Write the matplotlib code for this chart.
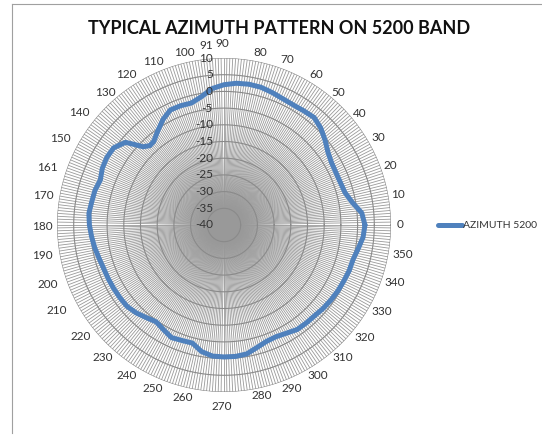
import numpy as np
import matplotlib
matplotlib.use("Agg")
import matplotlib.pyplot as plt
from matplotlib.transforms import offset_copy
from matplotlib.lines import Line2D

plt.rcParams['font.family'] = ['Lato', 'DejaVu Sans']

title = "TYPICAL AZIMUTH PATTERN ON 5200 BAND"
series_name = "AZIMUTH 5200"

angles_deg = [0, 5, 10, 15, 20, 25, 30, 35, 40, 45, 50, 55, 60, 65, 70, 75, 80, 85,
              90, 95, 100, 105, 110, 115, 120, 125, 130, 133, 136, 138, 140, 145, 150,
              155, 160, 165, 170, 175, 180, 185, 190, 195, 200, 205, 210, 215, 220,
              225, 230, 235, 240, 245, 250, 255, 260, 265, 270, 275, 280, 285, 290,
              295, 300, 305, 310, 315, 320, 325, 330, 335, 340, 345, 350, 355, 360]
gain_db = [2.2, 1.4, -1.0, -2.5, -2.9, -3.0, -2.8, -2.0, -0.5, 1.0, 2.0, 1.7, 1.5, 1.7,
           2.2, 2.7, 2.8, 2.6, 2.0, 1.0, -1.0, -2.2, -2.0, -2.0, -3.5, -5.5, -7.3, -7.5,
           -6.3, -4.0, -1.5, 0.3, 0.5, 0.2, -0.6, 0.0, 0.2, 0.6, 0.3, -0.2, -0.7, -1.3,
           -1.7, -1.8, -1.9, -2.0, -2.1, -2.8, -3.8, -4.6, -3.8, -2.8, -3.2, -3.4, -1.5,
           -0.6, -0.5, -0.5, -0.8, -2.0, -2.9, -3.1, -2.6, -1.8, -1.7, -1.6, -1.2, -0.9,
           -0.6, -0.4, -0.1, 0.0, 0.8, 1.8, 2.2]

angle_labels = ['0', '10', '20', '30', '40', '50', '60', '70', '80', '90', '91', '100',
                '110', '120', '130', '140', '150', '161', '170', '180', '190', '200',
                '210', '220', '230', '240', '250', '260', '270', '280', '290', '300',
                '310', '320', '330', '340', '350']
radial_ticks = [-40, -35, -30, -25, -20, -15, -10, -5, 0, 5, 10]
spoke_count = 360

# label placement (angle in degrees, distance from centre in pixels)
label_angle = [0, 9.8, 19.8, 29.5, 39.5, 49.4, 58.5, 69, 78, 90.6, 95.5, 103, 113.5, 123,
               132, 142, 152, 162, 170.6, 180.6, 189.4, 198.8, 207, 217.9, 227.5, 237,
               246.5, 256.6, 269.4, 282.6, 292.6, 302, 311.8, 321.5, 331.2, 341.3, 350.5]
label_dist = [176, 177, 177, 177, 176, 175, 176, 177, 176, 182, 180, 177, 178, 179,
              178, 183, 185, 186, 183, 182, 184, 186, 188, 182, 180, 179, 178, 177,
              182, 175, 177, 177, 178, 180, 180, 180, 181]

W, H = 542, 443
fig = plt.figure(figsize=(W / 100, H / 100), dpi=100)
fig.patch.set_facecolor('white')

cx, cy, R = 224, 225, 167
ax = fig.add_axes([(cx - R) / W, (H - cy - R) / H, 2 * R / W, 2 * R / H], projection='polar')
rmin, rmax = radial_ticks[0], radial_ticks[-1]
ax.set_ylim(rmin, rmax)
ax.grid(False)
ax.set_xticks([])
ax.set_yticks([])
ax.spines['polar'].set_visible(False)
ax.patch.set_alpha(0)

# spokes
th_sp = np.deg2rad(np.arange(spoke_count) * 360.0 / spoke_count)
ax.vlines(th_sp, rmin, rmax, color='#999999', lw=0.6, zorder=1)

# concentric rings
th_c = np.linspace(0, 2 * np.pi, 721)
for r in radial_ticks[1:]:
    ax.plot(th_c, np.full_like(th_c, r), color='#8a8a8a', lw=0.8, zorder=2)

# data
ax.plot(np.deg2rad(angles_deg), gain_db, color='#4F81BD', lw=3.6,
        solid_joinstyle='round', solid_capstyle='round', zorder=5)

# angle labels
for lab, a, d in zip(angle_labels, label_angle, label_dist):
    rr = rmin + d / R * (rmax - rmin)
    ax.text(np.deg2rad(a), rr, lab, ha='center', va='center', fontsize=8.5,
            color='#333333', clip_on=False)

# radial labels
trans = offset_copy(ax.transData, fig=fig, x=-11, y=0, units='dots')
for v in radial_ticks:
    ax.text(np.pi / 2, v, str(v), transform=trans, ha='right', va='center', fontsize=8.5,
            color='#333333', clip_on=False, zorder=6)

# legend
ly = 1 - 225 / H
fig.add_artist(Line2D([438 / W, 462 / W], [ly, ly], color='#4F81BD', lw=3.6,
                      solid_capstyle='round'))
fig.text(463 / W, ly, series_name, ha='left', va='center', fontsize=7.5, color='#333333')

# title
fig.text(279 / W, 1 - 28 / H, title, ha='center', va='center', fontsize=13,
         weight='bold', color='#111111')

# chart border (left and top)
fig.add_artist(Line2D([12 / W, 12 / W], [1 - 433 / H, 1 - 4 / H], color='#a0a0a0', lw=0.8))
fig.add_artist(Line2D([12 / W, 1], [1 - 4 / H, 1 - 4 / H], color='#a0a0a0', lw=0.8))

fig.savefig('out.png', dpi=100)
